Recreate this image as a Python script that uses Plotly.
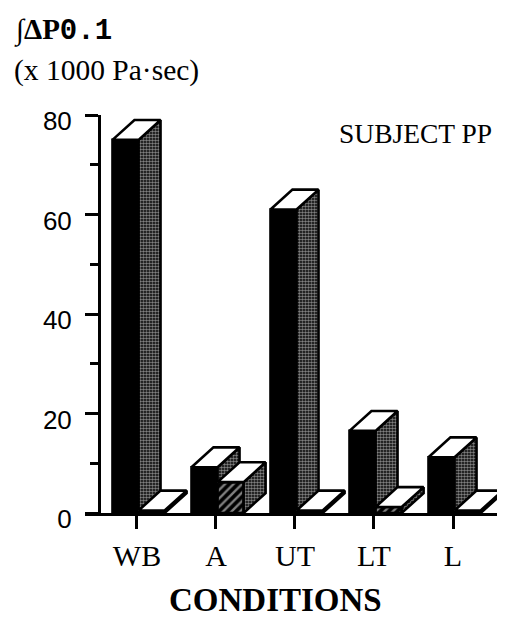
import plotly.graph_objects as go

# ---- data -------------------------------------------------------------
categories = ["WB", "A", "UT", "LT", "L"]
solid_values = [75.0, 9.2, 61.0, 16.5, 11.2]     # first bar of each group
hatched_values = [0.5, 6.2, 0.5, 1.2, 0.5]       # second bar of each group
y_ticks = [0, 20, 40, 60, 80]

# ---- box geometry (axis units) ---------------------------------------
BAR_W = 0.33        # width of a front face
SPLIT = 0.02        # where the two bars of a group meet, relative to the tick
DEPTH_X = 0.278     # oblique depth, horizontal part
DEPTH_Y = 4.0       # oblique depth, vertical part

W, H = 509, 626
ML, MR, MT, MB = 85, 12, 115, 113


def px(x):
    return (x - ML) / (W - ML - MR)


def py(y):
    return (H - MB - y) / (H - MT - MB)


def box_faces(values, offset):
    """Front, side and top outlines of oblique boxes, one per category."""
    fx, fy, sx, sy, tx, ty = [], [], [], [], [], []
    for i, v in enumerate(values):
        x0 = i + offset
        x1 = x0 + BAR_W
        fx += [x0, x1, x1, x0, x0, None]
        fy += [0, 0, v, v, 0, None]
        sx += [x1, x1 + DEPTH_X, x1 + DEPTH_X, x1, x1, None]
        sy += [0, DEPTH_Y, v + DEPTH_Y, v, 0, None]
        tx += [x0, x1, x1 + DEPTH_X, x0 + DEPTH_X, x0, None]
        ty += [v, v, v + DEPTH_Y, v + DEPTH_Y, v, None]
    return (fx, fy), (sx, sy), (tx, ty)


OUTLINE = dict(color="black", width=2.6)
DOTS = dict(shape=".", bgcolor="black", fgcolor="white", size=3, solidity=0.55)
STRIPES = dict(shape="/", bgcolor="black", fgcolor="white", size=6, solidity=0.4)


def poly(xy, fill="white", pattern=None):
    kw = dict(x=xy[0], y=xy[1], mode="lines", fill="toself", fillcolor=fill,
              line=OUTLINE, hoverinfo="skip", showlegend=False)
    if pattern:
        kw["fillpattern"] = pattern
    return go.Scatter(**kw)


fig = go.Figure()

s_front, s_side, s_top = box_faces(solid_values, SPLIT - BAR_W)
h_front, h_side, h_top = box_faces(hatched_values, SPLIT)

fig.add_trace(poly(s_front, fill="black"))
fig.add_trace(poly(s_side, fill="black", pattern=DOTS))
fig.add_trace(poly(s_top, fill="white"))
fig.add_trace(poly(h_front, fill="black", pattern=STRIPES))
fig.add_trace(poly(h_side, fill="black", pattern=DOTS))
fig.add_trace(poly(h_top, fill="white"))

serif = "Liberation Serif"
sans = "Liberation Sans"

fig.update_layout(
    width=W, height=H, autosize=False,
    margin=dict(l=ML, r=MR, t=MT, b=MB, pad=0),
    paper_bgcolor="white", plot_bgcolor="white",
    showlegend=False,
    xaxis=dict(
        range=[-0.658, 4.557],
        tickmode="array", tickvals=list(range(len(categories))), ticktext=categories,
        ticks="outside", ticklen=13, tickwidth=2.5, tickcolor="black",
        showline=True, linewidth=3, linecolor="black",
        showgrid=False, zeroline=False,
        tickfont=dict(family=serif, size=30, color="black"),
        ticklabelstandoff=1,
    ),
    yaxis=dict(
        range=[0, 80],
        tickmode="array", tickvals=y_ticks,
        ticks="outside", ticklen=13, tickwidth=3, tickcolor="black",
        minor=dict(tickmode="linear", tick0=0, dtick=10, ticks="outside",
                   ticklen=8, tickwidth=3, tickcolor="black"),
        showline=True, linewidth=3, linecolor="black",
        showgrid=False, zeroline=False,
        anchor="free", position=px(99),
        tickfont=dict(family=sans, size=26, color="black"),
        ticklabelstandoff=8, ticklabelshift=6,
    ),
)

annotations = [
    dict(text="<b>∫ΔP<span style='font-family:Liberation Mono'>0.1</span></b>",
         x=px(12), y=py(30), xanchor="left", yanchor="middle",
         font=dict(family=serif, size=29, color="black")),
    dict(text="(x 1000 Pa·sec)",
         x=px(12), y=py(70), xanchor="left", yanchor="middle",
         font=dict(family=serif, size=29.5, color="black")),
    dict(text="SUBJECT PP",
         x=px(415), y=py(133), xanchor="center", yanchor="middle",
         font=dict(family=serif, size=27.5, color="black")),
    dict(text="<b>CONDITIONS</b>",
         x=px(275), y=py(600), xanchor="center", yanchor="middle",
         font=dict(family=serif, size=33, color="black")),
]
for a in annotations:
    fig.add_annotation(xref="paper", yref="paper", showarrow=False, **a)

fig.write_html("out.html")
